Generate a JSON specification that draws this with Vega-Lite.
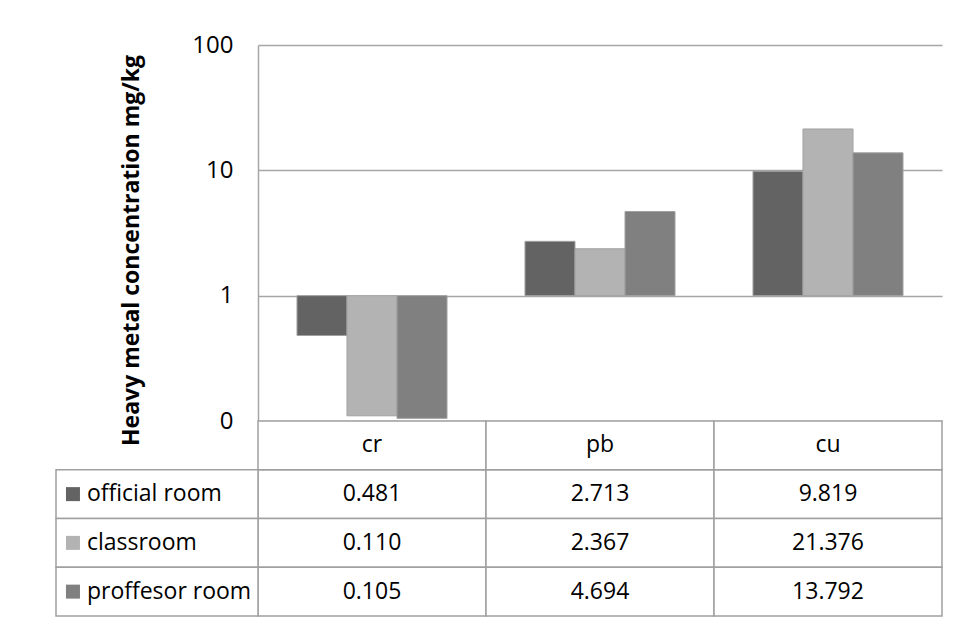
{
  "$schema": "https://vega.github.io/schema/vega-lite/v6.json",
  "padding": {"left": 55, "top": 33, "right": 5, "bottom": 5},
  "bounds": "flush",
  "spacing": 0,
  "config": {"view": {"stroke": null}, "font": "Open Sans"},
  "data": {
    "values": [
      {"metal": "cr", "room": "official room", "value": 0.481},
      {"metal": "pb", "room": "official room", "value": 2.713},
      {"metal": "cu", "room": "official room", "value": 9.819},
      {"metal": "cr", "room": "classroom", "value": 0.11},
      {"metal": "pb", "room": "classroom", "value": 2.367},
      {"metal": "cu", "room": "classroom", "value": 21.376},
      {"metal": "cr", "room": "proffesor room", "value": 0.105},
      {"metal": "pb", "room": "proffesor room", "value": 4.694},
      {"metal": "cu", "room": "proffesor room", "value": 13.792}
    ]
  },
  "resolve": {"scale": {"x": "independent", "y": "independent"}},
  "vconcat": [
    {
      "width": 684,
      "height": 376,
      "mark": {"type": "bar", "stroke": "#a0a0a0", "strokeWidth": 1},
      "encoding": {
        "x": {"field": "metal", "type": "nominal", "scale": {"domain": ["cr", "pb", "cu"], "paddingInner": 0.342, "paddingOuter": 0.171}, "axis": null},
        "xOffset": {"field": "room", "type": "nominal", "scale": {"domain": ["official room", "classroom", "proffesor room"]}},
        "y": {
          "field": "value", "type": "quantitative",
          "scale": {"type": "log", "domain": [0.1, 100], "nice": false},
          "axis": {
            "values": [0.1, 1, 10, 100],
            "labelExpr": "format(datum.value, '.0f')",
            "grid": true, "gridColor": "#a6a6a6", "gridWidth": 1.5,
            "domainColor": "#a6a6a6", "domainWidth": 1.5,
            "ticks": false, "labelPadding": 25,
            "labelFont": "Open Sans", "labelFontSize": 24, "labelColor": "#000000",
            "title": "Heavy metal concentration mg/kg",
            "titleFont": "Open Sans", "titleFontSize": 23, "titleFontWeight": "bold", "titleColor": "#000000",
            "titlePadding": 48, "titleY": 205
          }
        },
        "y2": {"datum": 1},
        "color": {"field": "room", "type": "nominal", "scale": {"domain": ["official room", "classroom", "proffesor room"], "range": ["#636363", "#b3b3b3", "#808080"]}, "legend": null}
      }
    },
    {
      "width": 684,
      "height": 195,
      "encoding": {
        "y": {"field": "room", "type": "nominal", "scale": {"domain": ["header", "official room", "classroom", "proffesor room"], "paddingInner": 0, "paddingOuter": 0}, "axis": null},
        "color": {"field": "room", "type": "nominal", "scale": {"domain": ["official room", "classroom", "proffesor room"], "range": ["#636363", "#b3b3b3", "#808080"]}, "legend": null}
      },
      "resolve": {"scale": {"x": "independent"}},
      "layer": [
        {
          "encoding": {
            "x": {"field": "metal", "type": "nominal", "scale": {"domain": ["cr", "pb", "cu"], "paddingInner": 0, "paddingOuter": 0}, "axis": null}
          },
          "layer": [
            {
              "mark": {"type": "rect", "fill": "#ffffff", "stroke": "#a0a0a0", "strokeWidth": 1.5},
              "encoding": {"color": {"value": "#ffffff"}}
            },
            {
              "transform": [{"aggregate": [{"op": "count", "as": "n"}], "groupby": ["metal"]}],
              "mark": {"type": "rect", "fill": "#ffffff", "stroke": "#a0a0a0", "strokeWidth": 1.5},
              "encoding": {"y": {"datum": "header"}, "color": {"value": "#ffffff"}}
            },
            {
              "mark": {"type": "text", "font": "Open Sans", "fontSize": 23, "align": "center", "baseline": "middle"},
              "encoding": {"text": {"field": "value", "type": "quantitative", "format": ".3f"}, "color": {"value": "#000000"}}
            },
            {
              "transform": [{"aggregate": [{"op": "count", "as": "n"}], "groupby": ["metal"]}],
              "mark": {"type": "text", "font": "Open Sans", "fontSize": 23, "align": "center", "baseline": "middle"},
              "encoding": {"y": {"datum": "header"}, "text": {"field": "metal", "type": "nominal"}, "color": {"value": "#000000"}}
            }
          ]
        },
        {
          "transform": [{"filter": "datum.metal == 'cr'"}],
          "layer": [
            {
              "mark": {"type": "rect", "fill": "#ffffff", "stroke": "#a0a0a0", "strokeWidth": 1.5},
              "encoding": {
                "x": {"datum": "lab", "type": "nominal", "scale": {"domain": ["lab"], "range": [-202, 0], "paddingInner": 0, "paddingOuter": 0}, "axis": null},
                "color": {"value": "#ffffff"}
              }
            },
            {
              "mark": {"type": "square", "size": 196, "opacity": 1, "filled": true},
              "encoding": {
                "x": {"datum": "lab", "type": "nominal", "bandPosition": 0.084, "scale": {"domain": ["lab"], "range": [-202, 0], "paddingInner": 0, "paddingOuter": 0}, "axis": null}
              }
            },
            {
              "mark": {"type": "text", "font": "Open Sans", "fontSize": 23, "align": "left", "baseline": "middle"},
              "encoding": {
                "x": {"datum": "lab", "type": "nominal", "bandPosition": 0.153, "scale": {"domain": ["lab"], "range": [-202, 0], "paddingInner": 0, "paddingOuter": 0}, "axis": null},
                "text": {"field": "room", "type": "nominal"},
                "color": {"value": "#000000"}
              }
            }
          ]
        }
      ]
    }
  ]
}
